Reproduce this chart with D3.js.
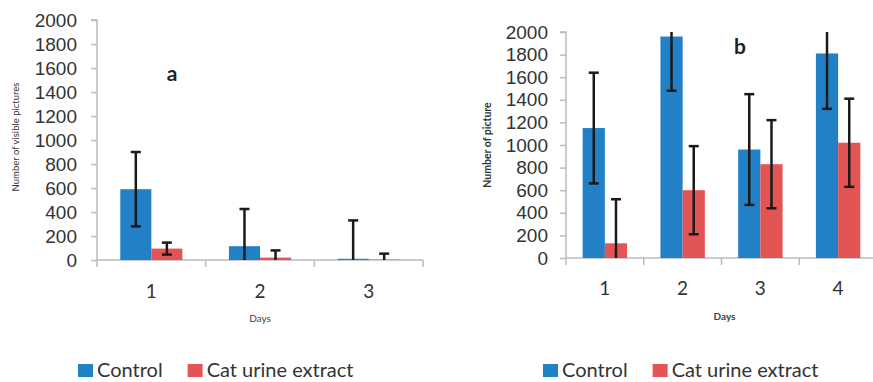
<!DOCTYPE html>
<html>
<head>
<meta charset="utf-8">
<script src="https://cdn.jsdelivr.net/npm/d3@7/dist/d3.min.js"></script>
<style>
  body { margin: 0; background: #fff; }
  svg { display: block; font-family: Lato, "Open Sans", sans-serif; }
</style>
</head>
<body>
<svg id="chart" width="873" height="382"></svg>
<script>
// panel a
const daysA = ["1", "2", "3"];
const controlA = [590, 115, 10];
const controlErrA = [310, 310, 320];
const urineA = [95, 20, 3];
const urineErrA = [50, 60, 50];

// panel b
const daysB = ["1", "2", "3", "4"];
const controlB = [1150, 1960, 960, 1810];
const controlErrB = [490, 480, 490, 490];
const urineB = [130, 600, 830, 1020];
const urineErrB = [390, 390, 390, 390];

const yTicks = [0, 200, 400, 600, 800, 1000, 1200, 1400, 1600, 1800, 2000];
const seriesNames = ["Control", "Cat urine extract"];
const colors = ["#2280c6", "#e35555"];

var svg = d3.select("#chart");

function drawPanel(opts) {
  var g = svg.append("g");

  var x = d3.scaleBand()
    .domain(opts.days)
    .range([opts.left, opts.right])
    .paddingInner(0).paddingOuter(0);

  var y = d3.scaleLinear().domain([0, 2000]).range([opts.bottom, opts.top]);

  var bw = x.bandwidth() / 3.5;   // excel gap width 150%

  // y axis
  var yAxis = d3.axisLeft(y).tickValues(yTicks).tickFormat(d3.format("d"))
    .tickSize(6).tickPadding(opts.labelPad);
  var ya = g.append("g")
    .attr("transform", "translate(" + opts.left + ",0)")
    .call(yAxis);
  ya.selectAll("text").style("font-size", opts.tickFont + "px").attr("fill", "#333");
  ya.selectAll("line").attr("stroke", "#bbb").attr("stroke-width", 1.5);
  ya.select(".domain").attr("stroke", "#bbb").attr("stroke-width", 1.5)
    .attr("d", "M-6," + y(2000) + "H0V" + y(0));

  // x axis with ticks between categories
  var xa = g.append("g").attr("transform", "translate(0," + opts.bottom + ")");
  xa.append("line")
    .attr("x1", opts.left).attr("x2", opts.right)
    .attr("stroke", "#bbb").attr("stroke-width", 1.5);
  var edges = opts.days.map(d => x(d)).concat([x(opts.days[opts.days.length - 1]) + x.bandwidth()]);
  xa.selectAll(".xt").data(edges).enter().append("line")
    .attr("x1", d => d).attr("x2", d => d)
    .attr("y1", 0).attr("y2", 7)
    .attr("stroke", "#bbb").attr("stroke-width", 1.5);
  xa.selectAll(".xl").data(opts.days).enter().append("text")
    .attr("x", d => x(d) + x.bandwidth() / 2)
    .attr("y", opts.catY - opts.bottom)
    .attr("text-anchor", "middle")
    .attr("dominant-baseline", "central")
    .style("font-size", "19px").attr("fill", "#333")
    .text(d => d);

  var series = [
    { vals: opts.control, err: opts.controlErr, off: 0, color: colors[0] },
    { vals: opts.urine, err: opts.urineErr, off: 1, color: colors[1] }
  ];

  series.forEach(function (s) {
    g.selectAll(null).data(s.vals).enter().append("rect")
      .attr("x", (d, i) => x(opts.days[i]) + x.bandwidth() / 2 - bw + s.off * bw)
      .attr("y", d => y(d))
      .attr("width", bw)
      .attr("height", d => y(0) - y(d))
      .attr("fill", s.color);
  });

  // error bars on top, clipped to the axis range
  series.forEach(function (s) {
    s.vals.forEach(function (v, i) {
      var mx = x(opts.days[i]) + x.bandwidth() / 2 - bw + s.off * bw + bw / 2;
      var hi = v + s.err[i], lo = v - s.err[i];
      var yh = y(Math.min(hi, 2000)), yl = y(Math.max(lo, 0));
      g.append("line")
        .attr("x1", mx).attr("x2", mx).attr("y1", yh).attr("y2", yl)
        .attr("stroke", "#1a1a1a").attr("stroke-width", 2.5);
      if (hi <= 2000) {
        g.append("line").attr("x1", mx - 5).attr("x2", mx + 5).attr("y1", yh).attr("y2", yh)
          .attr("stroke", "#1a1a1a").attr("stroke-width", 2.5);
      }
      if (lo >= 0) {
        g.append("line").attr("x1", mx - 5).attr("x2", mx + 5).attr("y1", yl).attr("y2", yl)
          .attr("stroke", "#1a1a1a").attr("stroke-width", 2.5);
      }
    });
  });

  // axis titles
  g.append("text")
    .attr("transform", "translate(" + opts.yTitleX + "," + opts.yTitleY + ") rotate(-90)")
    .attr("text-anchor", "middle")
    .attr("dominant-baseline", "central")
    .style("font-size", opts.yTitleFont + "px")
    .style("font-weight", opts.yTitleWeight)
    .attr("fill", "#333")
    .text(opts.yTitle);

  g.append("text")
    .attr("x", (opts.left + opts.right) / 2 + opts.daysShift)
    .attr("y", opts.daysY)
    .attr("text-anchor", "middle")
    .attr("dominant-baseline", "central")
    .style("font-size", "10px")
    .style("font-weight", opts.yTitleWeight)
    .attr("fill", "#444")
    .text("Days");

  // panel letter
  g.append("text")
    .attr("x", opts.letterX).attr("y", opts.letterY)
    .attr("text-anchor", "middle")
    .attr("dominant-baseline", "central")
    .style("font-size", "21px").style("font-weight", "bold")
    .attr("fill", "#222")
    .text(opts.letter);

  // legend
  var lg = g.append("g").attr("transform", "translate(" + opts.legendX + ",369)");
  var lx = 0;
  seriesNames.forEach(function (name, i) {
    lg.append("rect").attr("x", lx).attr("y", -5).attr("width", 15).attr("height", 13)
      .attr("fill", colors[i]);
    var t = lg.append("text").attr("x", lx + 19).attr("y", 0)
      .attr("dominant-baseline", "central")
      .style("font-size", "20px").attr("fill", "#333")
      .text(name);
    lx += 19 + t.node().getComputedTextLength() + 25;
  });
}

drawPanel({
  days: daysA, control: controlA, controlErr: controlErrA, urine: urineA, urineErr: urineErrA,
  left: 97, right: 423, top: 20, bottom: 260,
  tickFont: 19, labelPad: 14, catY: 290,
  yTitle: "Number of visible pictures", yTitleX: 15, yTitleY: 137, yTitleFont: 9.5, yTitleWeight: "normal",
  daysY: 318, daysShift: 0,
  letter: "a", letterX: 172, letterY: 72,
  legendX: 78
});

drawPanel({
  days: daysB, control: controlB, controlErr: controlErrB, urine: urineB, urineErr: urineErrB,
  left: 566, right: 877, top: 32, bottom: 258,
  tickFont: 19, labelPad: 12, catY: 287,
  yTitle: "Number of picture", yTitleX: 487, yTitleY: 145, yTitleFont: 10.5, yTitleWeight: "bold",
  daysY: 316, daysShift: 3,
  letter: "b", letterX: 740, letterY: 45,
  legendX: 543
});
</script>
</body>
</html>
